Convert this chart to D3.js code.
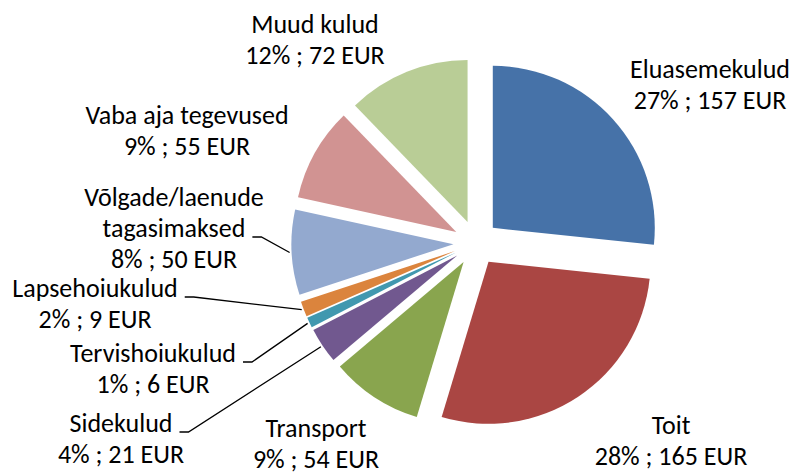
<!DOCTYPE html>
<html>
<head>
<meta charset="utf-8">
<script src="https://cdn.jsdelivr.net/npm/d3@7"></script>
<style>
  html, body { margin: 0; padding: 0; background: #fff; }
  svg { display: block; }
  text { font-family: Carlito, Calibri, Lato, sans-serif; fill: #000; }
</style>
</head>
<body>
<svg id="chart" width="795" height="475"></svg>
<script>
// Monthly expenses by category (EUR)
const categories = ["Eluasemekulud", "Toit", "Transport", "Sidekulud", "Tervishoiukulud",
                    "Lapsehoiukulud", "Võlgade/laenude tagasimaksed", "Vaba aja tegevused", "Muud kulud"];
const amounts = [157, 165, 54, 21, 6, 9, 50, 55, 72];
const percentLabels = ["27%", "28%", "9%", "4%", "1%", "2%", "8%", "9%", "12%"];
const nameLines = [["Eluasemekulud"], ["Toit"], ["Transport"], ["Sidekulud"], ["Tervishoiukulud"],
                   ["Lapsehoiukulud"], ["Võlgade/laenude", "tagasimaksed"], ["Vaba aja tegevused"], ["Muud kulud"]];
const colors = ["#4672A8", "#AA4643", "#89A54E", "#71588F", "#4198AF",
                "#DB843D", "#93A9CF", "#D19392", "#B9CD96"];

// Layout
const width = 795, height = 475;
const cx = 476, cy = 243, radius = 162, explode = 22.6;
const fontSize = 26, lineGap = 31;
// label block: centre x and first baseline
const labelPos = [[710, 78], [671, 434], [316, 437], [121, 432], [153, 362],
                  [95, 297], [174, 206], [187, 124], [315, 33]];
// labels that get a leader line, and which line it attaches to
const leaderLine = {3: 0, 4: 0, 5: 0, 6: 1};

const svg = d3.select("#chart");
const g = svg.append("g").attr("transform", `translate(${cx},${cy})`);

const pie = d3.pie().sort(null).value(d => d);
const arcs = pie(amounts);
const arc = d3.arc().innerRadius(0).outerRadius(radius);

const offset = a => {
  const m = (a.startAngle + a.endAngle) / 2;
  return [Math.sin(m) * explode, -Math.cos(m) * explode];
};

g.selectAll("path.slice")
  .data(arcs)
  .join("path")
  .attr("class", "slice")
  .attr("fill", (d, i) => colors[i])
  .attr("transform", d => `translate(${offset(d)})`)
  .attr("d", arc);

// labels
const labels = svg.append("g");
arcs.forEach((a, i) => {
  const lines = nameLines[i].concat([`${percentLabels[i]} ; ${amounts[i]} EUR`]);
  const [lx, ly] = labelPos[i];
  const t = labels.append("text")
    .attr("text-anchor", "middle")
    .attr("font-size", fontSize);
  const spans = lines.map((s, k) => t.append("tspan")
    .attr("x", lx)
    .attr("y", ly + k * lineGap)
    .text(s));

  if (i in leaderLine) {
    const k = leaderLine[i];
    const w = spans[k].node().getComputedTextLength();
    const y0 = ly + k * lineGap;
    const x0 = lx + w / 2 + 7;
    const m = (a.startAngle + a.endAngle) / 2;
    const [ox, oy] = offset(a);
    const ex = cx + ox + Math.sin(m) * (radius + 2);
    const ey = cy + oy - Math.cos(m) * (radius + 2);
    labels.append("path")
      .attr("d", d3.line()([[x0, y0], [x0 + 9, y0], [ex, ey]]))
      .attr("fill", "none")
      .attr("stroke", "#000")
      .attr("stroke-width", 1.3);
  }
});
</script>
</body>
</html>
